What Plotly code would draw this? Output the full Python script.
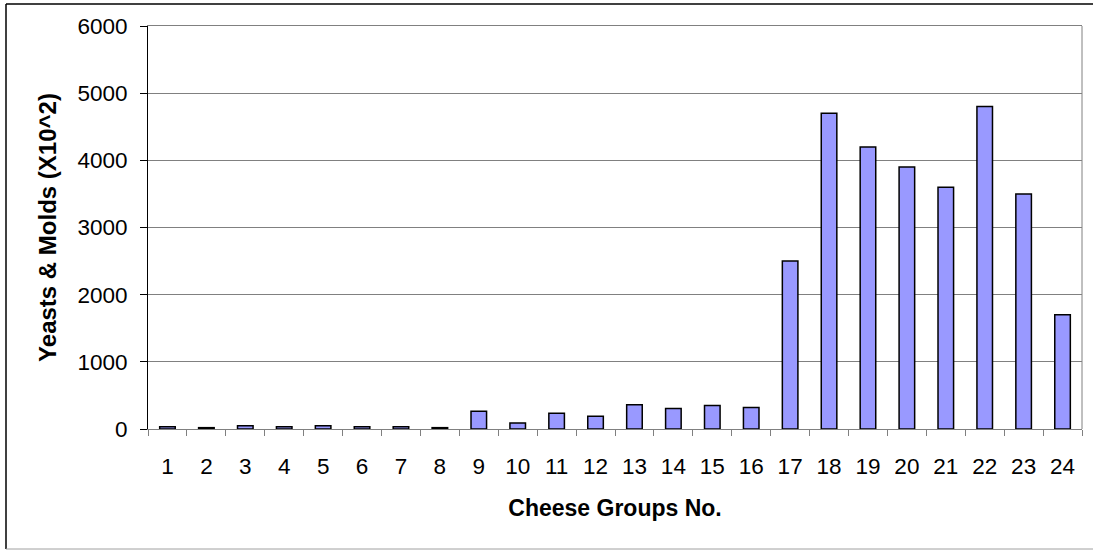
import plotly.graph_objects as go

groups = [str(i) for i in range(1, 25)]
yeasts_molds = [35, 20, 50, 35, 50, 35, 35, 20,
                265, 90, 235, 190, 360, 305, 350, 320,
                2500, 4700, 4200, 3900, 3600, 4800, 3500, 1700]
y_ticks = [0, 1000, 2000, 3000, 4000, 5000, 6000]

FONT = "Liberation Sans, Arial, sans-serif"

fig = go.Figure(
    go.Bar(
        x=groups,
        y=yeasts_molds,
        marker=dict(color="#9999FF", line=dict(color="#000000", width=1.5)),
        hoverinfo="x+y",
    )
)

fig.update_layout(
    width=1093,
    height=550,
    margin=dict(l=148, r=11, t=26, b=121),
    paper_bgcolor="white",
    plot_bgcolor="white",
    bargap=0.6,
    showlegend=False,
    font=dict(family=FONT, color="black", size=22.5),
)

fig.update_xaxes(
    type="category",
    tickson="boundaries",
    ticks="outside",
    ticklen=6,
    tickcolor="#808080",
    showline=True,
    linecolor="#808080",
    linewidth=1,
    mirror=True,
    showgrid=False,
    tickfont=dict(size=22.5),
    ticklabelstandoff=17,
    title=dict(text="<b>Cheese Groups No.</b>", font=dict(size=23), standoff=21),
)

fig.update_yaxes(
    range=[0, 6000],
    tickvals=y_ticks,
    ticks="outside",
    ticklen=7,
    tickcolor="#000000",
    showline=True,
    linecolor="#000000",
    linewidth=1,
    showgrid=True,
    gridcolor="#808080",
    gridwidth=1,
    zeroline=False,
    tickfont=dict(size=22.5),
    ticklabelstandoff=8,
    title=dict(text="<b>Yeasts &amp; Molds (X10^2)</b>", font=dict(size=24), standoff=14),
)

# right edge of the plot area
fig.add_shape(type="line", xref="paper", yref="paper", x0=1, x1=1, y0=0, y1=1,
              line=dict(color="#808080", width=1))

# outer chart frame
pw, ph = 1093 - 148 - 11, 550 - 26 - 121
fx0 = (6 - 148) / pw
fx1 = (1100 - 148) / pw
fy_top = (550 - 121 - 4) / ph
fy_bot = (550 - 121 - 549) / ph
fig.add_shape(type="line", xref="paper", yref="paper", x0=fx0, x1=fx1, y0=fy_top, y1=fy_top,
              line=dict(color="#000000", width=1.5))
fig.add_shape(type="line", xref="paper", yref="paper", x0=fx0, x1=fx0, y0=fy_top, y1=fy_bot,
              line=dict(color="#000000", width=1.5))
fig.add_shape(type="line", xref="paper", yref="paper", x0=fx0, x1=fx1, y0=fy_bot, y1=fy_bot,
              line=dict(color="#A0A0A0", width=1))

fig.write_html("out.html")
